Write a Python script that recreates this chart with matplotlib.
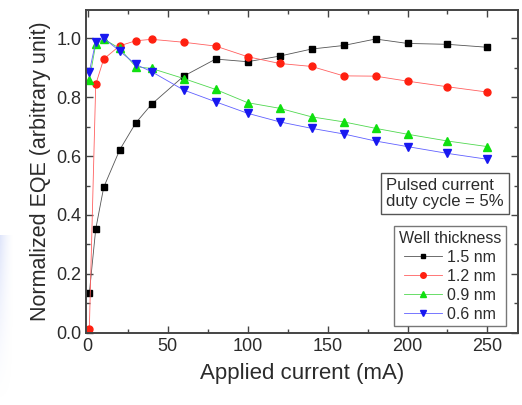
import matplotlib
matplotlib.use("Agg")
from matplotlib import pyplot as plt
from matplotlib.ticker import MultipleLocator
import numpy as np

plt.rcParams['font.family'] = ['Liberation Sans', 'DejaVu Sans']

# well thickness 1.5 nm
x_15 = [1, 5, 10, 20, 30, 40, 60, 80, 100, 120, 140, 160, 180, 200, 225, 250]
y_15 = [0.135, 0.352, 0.494, 0.621, 0.712, 0.776, 0.871, 0.929, 0.920, 0.939,
        0.963, 0.975, 0.997, 0.982, 0.979, 0.969]
# 1.2 nm
x_12 = [1, 5, 10, 20, 30, 40, 60, 80, 100, 120, 140, 160, 180, 200, 225, 250]
y_12 = [0.013, 0.843, 0.929, 0.974, 0.991, 0.996, 0.986, 0.973, 0.937, 0.914,
        0.904, 0.872, 0.871, 0.854, 0.835, 0.817]
# 0.9 nm
x_09 = [1, 5, 10, 20, 30, 40, 60, 80, 100, 120, 140, 160, 180, 200, 225, 250]
y_09 = [0.858, 0.979, 0.997, 0.965, 0.903, 0.897, 0.863, 0.826, 0.781, 0.762,
        0.733, 0.716, 0.694, 0.674, 0.651, 0.632]
# 0.6 nm
x_06 = [1, 5, 10, 20, 30, 40, 60, 80, 100, 120, 140, 160, 180, 200, 225, 250]
y_06 = [0.886, 0.988, 1.0, 0.956, 0.911, 0.886, 0.824, 0.784, 0.745, 0.716,
        0.694, 0.675, 0.651, 0.632, 0.609, 0.589]

labels = ['1.5 nm', '1.2 nm', '0.9 nm', '0.6 nm']
txt = '#2b2b2b'

fig = plt.figure(figsize=(5.22, 4.05), dpi=100)

# faint blue glow on the left edge of the screenshot
bg = fig.add_axes([0, 0, 0.025, 0.42])
gx = np.linspace(1, 0, 16)
gy = np.linspace(0, 1, 60)
g = 0.55 * np.outer(gy, gx) ** 1.5
rgba = np.zeros(g.shape + (4,))
rgba[..., 0] = 0.78
rgba[..., 1] = 0.82
rgba[..., 2] = 0.97
rgba[..., 3] = g
bg.imshow(rgba, aspect='auto', origin='lower', extent=[0, 1, 0, 1])
bg.axis('off')

ax = fig.add_axes([0.165, 0.178, 0.827, 0.797])

ax.plot(x_15, y_15, color='#555555', lw=0.6, marker='s', ms=4.2,
        mfc='black', mec='black', label=labels[0])
ax.plot(x_12, y_12, color='#ff6060', lw=0.6, marker='o', ms=5,
        mfc='#ff2010', mec='#ff2010', label=labels[1])
ax.plot(x_09, y_09, color='#50d850', lw=0.6, marker='^', ms=5.2,
        mfc='#10e010', mec='#10e010', label=labels[2])
ax.plot(x_06, y_06, color='#6060ff', lw=0.6, marker='v', ms=5.2,
        mfc='#1818f0', mec='#1818f0', label=labels[3])

ax.set_xlim(-1, 269)
ax.set_ylim(0, 1.095)
ax.xaxis.set_major_locator(MultipleLocator(50))
ax.xaxis.set_minor_locator(MultipleLocator(25))
ax.yaxis.set_major_locator(MultipleLocator(0.2))
ax.yaxis.set_minor_locator(MultipleLocator(0.1))
ax.tick_params(which='both', direction='in', top=True, right=True,
               colors='#444444', labelcolor=txt, labelsize=13, width=1)
ax.tick_params(which='major', length=5)
ax.tick_params(which='minor', length=3)
for s in ax.spines.values():
    s.set_color('#444444')
    s.set_linewidth(1.4)

ax.set_xlabel('Applied current (mA)', fontsize=16, color=txt, labelpad=6)
ax.set_ylabel('Normalized EQE (arbitrary unit)', fontsize=15.5, color=txt, labelpad=4)

ax.text(0.695, 0.383, 'Pulsed current\nduty cycle = 5%', transform=ax.transAxes,
        fontsize=12, color=txt, ha='left', va='bottom', linespacing=1.1,
        bbox=dict(boxstyle='square,pad=0.3', fc='white', ec='#555555', lw=1))

leg = ax.legend(loc='lower right', bbox_to_anchor=(0.972, 0.02),
                title='Well thickness', fontsize=11.5, title_fontsize=11.5,
                frameon=True, fancybox=False, edgecolor='#555555',
                handlelength=2.4, handletextpad=0.3, borderpad=0.3,
                labelspacing=0.25, borderaxespad=0, markerscale=0.8)
leg.get_frame().set_linewidth(1)
for t in leg.get_texts():
    t.set_color(txt)
leg.get_title().set_color(txt)

fig.savefig('out.png', dpi=100)
